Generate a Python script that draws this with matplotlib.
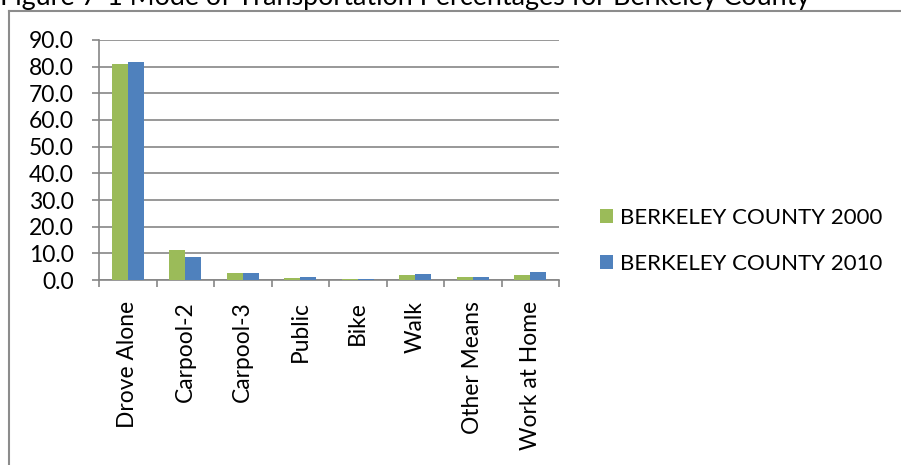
import numpy as np
import matplotlib
matplotlib.use('Agg')
import matplotlib.pyplot as plt
from matplotlib.lines import Line2D
from matplotlib.ticker import FixedLocator, FuncFormatter

# Mode of transportation shares (%)
modes = ['Drove Alone', 'Carpool-2', 'Carpool-3', 'Public', 'Bike',
         'Walk', 'Other Means', 'Work at Home']
pct_2000 = [80.9, 11.2, 2.6, 0.6, 0.2, 1.7, 1.2, 1.7]
pct_2010 = [81.8, 8.5, 2.6, 1.1, 0.2, 2.2, 1.0, 3.0]
series_names = ['BERKELEY COUNTY 2000', 'BERKELEY COUNTY 2010']
title = 'Figure 7-1 Mode of Transportation Percentages for Berkeley County'

GREEN = '#9BBB59'
BLUE = '#4F81BD'
GRID = '#868686'

plt.rcParams['font.family'] = ['Lato', 'DejaVu Sans']

W, H = 901, 465
fig = plt.figure(figsize=(W / 100, H / 100), dpi=100)

# axes placed in pixel terms
left, right, top, bottom = 99, 559, 40, 280
ax = fig.add_axes([left / W, 1 - bottom / H, (right - left) / W, (bottom - top) / H])

x = np.arange(len(modes))
w = 0.28
ax.bar(x - w / 2, pct_2000, w, color=GREEN, label=series_names[0], zorder=3)
ax.bar(x + w / 2, pct_2010, w, color=BLUE, label=series_names[1], zorder=3)

ax.set_xlim(-0.5, len(modes) - 0.5)
ax.set_ylim(0, 90)
ax.set_yticks(np.arange(0, 91, 10))
ax.yaxis.set_major_formatter(FuncFormatter(lambda v, p: f'{v:.1f}'))
ax.grid(axis='y', color=GRID, linewidth=1.2, zorder=0)

ax.set_xticks(x)
ax.set_xticklabels(modes, rotation=90)
ax.xaxis.set_minor_locator(FixedLocator(np.arange(-0.5, len(modes), 1.0)))
ax.tick_params(axis='x', which='major', length=0, pad=15, labelsize=16.4)
ax.tick_params(axis='x', which='minor', length=5, color=GRID, width=1.2)
ax.tick_params(axis='y', length=5, color=GRID, width=1.2, pad=13, labelsize=16.5)

for s in ['top', 'right']:
    ax.spines[s].set_visible(False)
for s in ['left', 'bottom']:
    ax.spines[s].set_color(GRID)
    ax.spines[s].set_linewidth(1.2)

leg = ax.legend(loc='center left', bbox_to_anchor=(600 / W, 1 - 241 / H),
                bbox_transform=fig.transFigure, frameon=False, fontsize=16,
                handlelength=0.6, handleheight=0.6, handletextpad=0.3,
                labelspacing=1.15, borderpad=0, borderaxespad=0)

# chart frame (only top and left edges fall inside the picture)
fig.add_artist(Line2D([9 / W, 9 / W], [0, 1 - 11 / H], transform=fig.transFigure,
                      color='#8C8C8C', linewidth=1.5))
fig.add_artist(Line2D([9 / W, 1], [1 - 11 / H, 1 - 11 / H], transform=fig.transFigure,
                      color='#8C8C8C', linewidth=1.5))

# caption above the chart, cut off by the top edge as in the source
fig.text(0.0 / W, 1 - 5 / H, title, fontsize=19.4, va='baseline', ha='left')

fig.savefig('out.png', dpi=100)
